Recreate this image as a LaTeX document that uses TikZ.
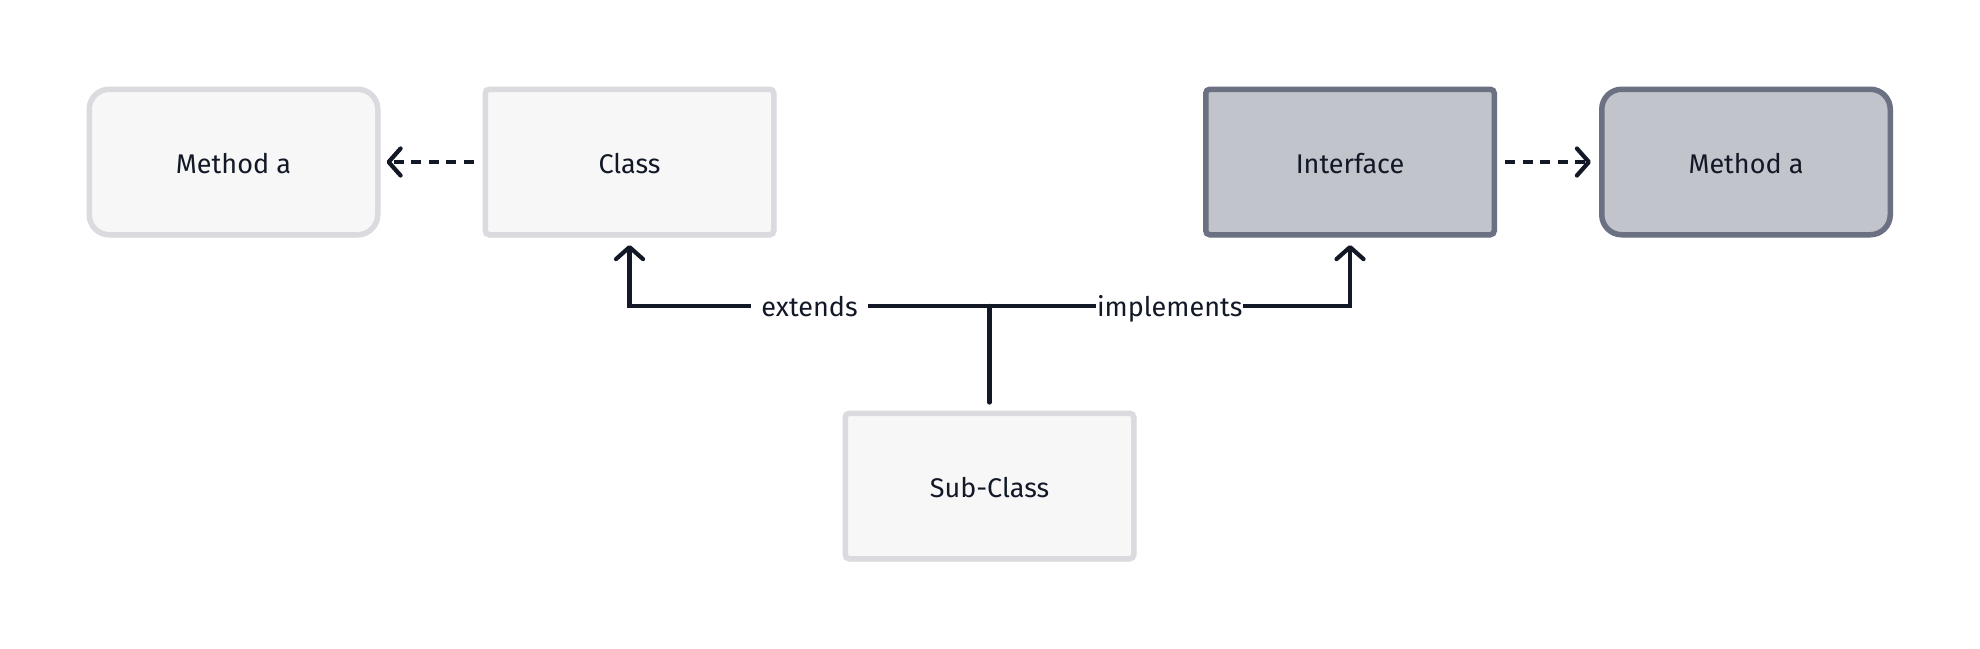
\documentclass[tikz,border=0pt]{standalone}
\usepackage{fontspec}
\setmainfont{Fira Sans}
\usetikzlibrary{arrows.meta,shadows}
\definecolor{lightfill}{HTML}{F7F7F7}
\definecolor{lightborder}{HTML}{DADADF}
\definecolor{darkfill}{HTML}{C1C4CB}
\definecolor{darkborder}{HTML}{6B7082}
\definecolor{ink}{HTML}{121826}
\tikzset{
  box/.style={draw, line width=5.5pt, minimum width=288.5pt, minimum height=145.5pt,
    inner sep=0pt, text=ink, font=\fontsize{27}{31}\selectfont,
    text height=23pt, text depth=0pt,
    drop shadow={opacity=0.06, shadow xshift=0pt, shadow yshift=-3pt}},
  lightbox/.style={box, fill=lightfill, draw=lightborder, rounded corners=4pt},
  darkbox/.style={box, fill=darkfill, draw=darkborder, rounded corners=4pt},
  lightround/.style={box, fill=lightfill, draw=lightborder, rounded corners=20pt},
  darkround/.style={box, fill=darkfill, draw=darkborder, rounded corners=20pt},
  conn/.style={draw=ink, line width=4.2pt, line cap=round},
  tip/.style={-{Straight Barb[length=12pt, width=27pt, line cap=round, line join=round]}},
  dashconn/.style={conn, dash pattern=on 10pt off 7.5pt, line cap=butt},
  lab/.style={fill=white, text=ink, font=\fontsize{27}{31}\selectfont, inner ysep=2pt,
    text height=22pt, text depth=2pt}
}
\begin{document}
\begin{tikzpicture}[x=1pt,y=-1pt]
\useasboundingbox[fill=white] (0,0) rectangle (1980,648);
\node[lightround] (ml) at (233.5,162) {Method a};
\node[lightbox] (cl) at (629.5,162) {Class};
\node[darkbox] (in) at (1350,162) {Interface};
\node[darkround] (mr) at (1746,162) {Method a};
\node[lightbox] (sc) at (989.5,486) {Sub-Class};
\coordinate (j) at (989.5,306);
\draw[dashconn, tip, shorten <=9pt, shorten >=6pt] (cl.west) -- (ml.east);
\draw[dashconn, tip, shorten <=8pt, shorten >=8pt] (in.east) -- (mr.west);
\draw[conn, shorten <=8pt] (sc.north) -- (j);
\draw[conn, tip, line join=miter, shorten >=7.5pt] (j) -- node[lab, inner xsep=10pt]{extends} (j -| cl) -- (cl.south);
\draw[conn, tip, line join=miter, shorten >=7.5pt] (j) -- node[lab, inner xsep=1pt]{implements} (j -| in) -- (in.south);
\end{tikzpicture}
\end{document}
